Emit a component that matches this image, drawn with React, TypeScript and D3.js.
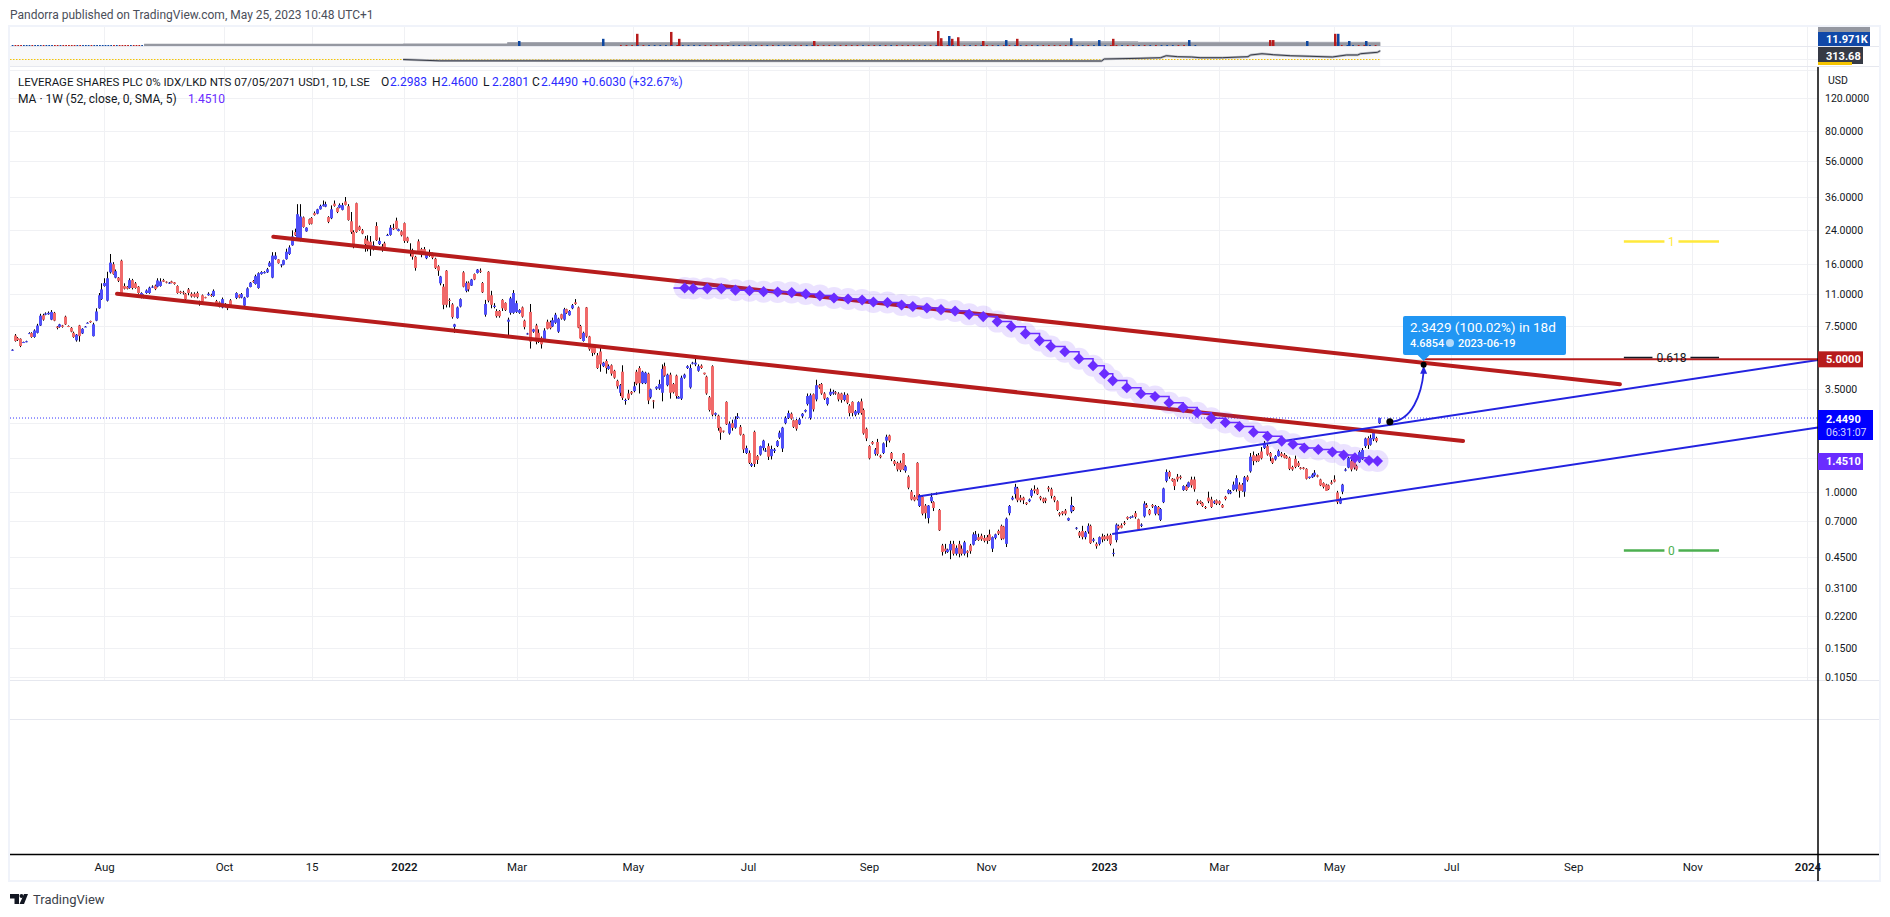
import { useEffect, useRef } from "react";
import * as d3 from "d3";

// daily candles (10 bars per line)
const opens = [
  5.58, 6.68, 6.48, 6.42, 6.13, 6.2, 6.84, 6.88, 6.56, 6.9,
  7.54, 8.55, 8.6, 8.65, 8.1, 8.8, 7.45, 7.42, 7.55, 8.4,
  7.5, 7.33, 6.9, 6.3, 7.55, 6.85, 7.42, 7.78, 7.97, 6.63,
  8.0, 9.3, 10.4, 12.2, 10.2, 14.4, 15.9, 13.5, 13.5, 16.6,
  12.2, 12.1, 11.9, 13.1, 12.6, 12.1, 10.55, 10.55, 11.2, 11.2,
  11.95, 12.25, 12.1, 12.2, 13.1, 12.85, 12.55, 12.9, 12.75, 12.2,
  11.4, 11.3, 11.1, 11.7, 11.1, 11.1, 11.2, 10.1, 10.9, 10.65,
  10.9, 10.95, 10.8, 10.15, 10, 9.4, 9.8, 9.55, 10.25, 9.55,
  10.55, 10.95, 10.6, 9.6, 10.65, 12.05, 12.95, 12.5, 11.9, 14.1,
  14.25, 14.4, 15.5, 13.5, 16.9, 16.85, 15.75, 15.8, 16.9, 18,
  20, 23.5, 21.7, 21.3, 28.1, 23.7, 27.5, 27.9, 29.6, 29.4,
  31, 32.2, 32, 28.2, 27.8, 33.2, 31.5, 31.6, 30.8, 34.1,
  32.2, 26.8, 23.5, 33.4, 25.1, 24, 21.7, 21.2, 20.9, 19.1,
  25.3, 20.3, 19.7, 20.5, 22.5, 22.7, 24.7, 27, 23.8, 23.7,
  26.2, 22, 18.9, 18.7, 17.4, 21, 19.1, 19.1, 17.1, 17.7,
  18.1, 17, 15.5, 12.6, 12.1, 14.7, 10.3, 9.75, 7.42, 8.25,
  9.5, 14.4, 11.5, 12.7, 12.25, 14.1, 14.3, 14.7, 12.65, 8.6,
  14.5, 10.9, 9.45, 9, 9,
  10.3, 9.93, 7.9, 8.8, 8.8, 8.9, 8.8, 9.4, 8, 6.8,
  8.9, 7, 7.55, 6.9, 6.5, 6.4, 7.9, 7.85, 7.45, 7.8,
  7, 8.65, 8.1, 9.2, 8.55, 9.3, 10, 9.4, 7.5, 6.25,
  9.4, 6.6, 5.95, 5.95, 5.25, 5.5, 4.6, 4.9, 4.45, 4.65,
  4.35, 3.85, 3.33, 4.3, 3.03, 3.3, 3.37, 3.4, 4.3, 4.5,
  3.74, 3.74, 4.2, 3.15, 3.03, 3.5, 3.5, 3.33, 4.6, 3.65,
  4.15, 3.7, 4.1, 3.1, 3.1, 4, 4.5, 3.55, 4.75, 4.7,
  4.35, 4.63, 4.25, 4.05, 3.15, 4.6, 2.55, 2.52, 2.18, 2.1,
  2.98, 2.03, 2.3, 2.18, 2.45, 2.2, 2, 1.6, 1.6, 1.37,
  2.07, 1.54, 1.57, 1.7, 1.63, 1.74, 1.54, 1.64, 1.74, 1.93,
  1.69, 2.3, 2.45, 2.58, 2.38, 2.39, 2.27, 2.5, 2.65, 2.9,
  2.45, 3.27, 3.07, 3.65, 3.7, 3.3, 2.9, 3.25, 3.3, 3.35,
  3.3, 3.3, 3.05, 3.25, 2.85, 2.98, 2.55, 2.6, 3, 2.7,
  2.15, 1.74, 1.83, 1.58, 1.83, 1.55, 1.6, 1.86, 1.98, 1.6,
  1.45, 1.42, 1.42, 1.59, 1.29, 1.2,
  1, 0.94, 1.42, 0.84, 0.94, 0.845, 0.725, 0.89, 0.88, 0.98,
  0.8, 0.52, 0.5, 0.48, 0.49, 0.53, 0.47, 0.53, 0.5, 0.47,
  0.485, 0.52, 0.525, 0.555, 0.575, 0.585, 0.57, 0.575, 0.595, 0.5,
  0.57, 0.62, 0.66, 0.655, 0.53, 0.77, 0.91, 0.97, 1.04, 0.93,
  0.93, 0.875, 0.89, 0.95, 1.03, 1.03, 0.94, 0.92, 0.92, 1.05,
  1.03, 0.94, 0.89, 0.77, 0.785, 0.795, 0.705, 0.785, 0.83, 0.64,
  0.61, 0.62, 0.575, 0.615, 0.66, 0.55, 0.53, 0.53, 0.58, 0.58,
  0.585, 0.59, 0.47, 0.555, 0.66, 0.665, 0.685, 0.735, 0.73, 0.735,
  0.77, 0.715, 0.66, 0.74, 0.85, 0.8, 0.85, 0.765, 0.83, 0.71,
  0.88, 1.14, 1.27, 1.17, 1.16, 1.2, 1.2, 1.02, 1.07, 1.06,
  1.16, 1.16, 0.89, 0.89, 0.87, 0.83, 0.93, 0.91, 0.87, 0.9,
  0.89, 0.85, 0.94, 0.98, 0.98, 1.02, 1.03, 1.09, 1.09, 1,
  1.2, 1.28, 1.56, 1.54, 1.56, 1.63, 1.7, 1.74, 1.6, 1.5,
  1.48, 1.54, 1.59, 1.57, 1.54, 1.51, 1.35, 1.49, 1.42, 1.34,
  1.34, 1.32, 1.18, 1.19, 1.22, 1.22, 1.16, 1.11, 1.09, 1.08,
  1.12, 1.16, 0.99, 0.865, 1, 1.29, 1.34, 1.45, 1.45, 1.37,
  1.43, 1.48, 1.74, 1.92, 1.77, 1.89, 1.92, 2.2983,
];
const closes = [
  5.62, 6.25, 6.32, 5.88, 6.17, 6.23, 6.88, 6.56, 7.1, 7.54,
  8.5, 8.1, 8.73, 8.8, 8.9, 8.0, 7.33, 7.65, 7.42, 7.65,
  7.42, 7.0, 6.56, 6.75, 6.63, 7.25, 7.45, 7.8, 7.85, 7.65,
  8.95, 10.9, 11.7, 12.65, 13.4, 16.2, 14.1, 14.6, 13.0, 11.2,
  11.8, 11.8, 13.1, 11.9, 11.9, 11.2, 11.2, 10.9, 11.55, 11.95,
  12.1, 11.75, 13.05, 12.9, 12.85, 12.7, 12.7, 12.65, 12.5, 11.2,
  11.2, 11.2, 10.4, 11.2, 10.75, 10.7, 10.65, 9.93, 10.1, 10.6,
  11.1, 10.8, 11.5, 9.75, 9.45, 10.4, 9.55, 9.3, 9.55, 9.6,
  11.2, 10.6, 11.05, 10.6, 11.85, 12.7, 12.8, 13.75, 14.25, 14.45,
  14.45, 14.95, 16.2, 17.65, 17.65, 16.1, 15.85, 16.7, 18.5, 19.5,
  22.3, 22.6, 29.2, 28.4, 25, 24.8, 26, 26, 28.9, 31,
  32.3, 32.8, 33, 26.6, 31, 32.3, 30, 32.7, 32.6, 32.7,
  27.2, 23.5, 19.9, 23.5, 24.1, 23.1, 20.3, 19.5, 19.3, 20,
  21.3, 21.1, 19.3, 19.5, 22.7, 24.8, 24.3, 24.5, 24.3, 22.6,
  21.1, 21, 18.3, 17.4, 15.2, 18.5, 18, 18.3, 18.2, 18.2,
  17.2, 15.2, 14.7, 13.7, 9.7, 9.7, 10.2, 8.35, 7.65, 9.4,
  10.4, 12.1, 12.65, 11.7, 13.2, 13.2, 14.9, 14.5, 11.3, 9.8,
  10.2, 9.7, 9.6, 8.45, 8.45,
  9.3, 9.1, 8.1, 10.5, 11.2, 9.9, 9.1, 8.4, 7.4, 6.85,
  6.2, 7.2, 6.2, 6.2, 6, 7.1, 7.25, 7.3, 8.05, 8.6,
  8.2, 8.2, 9.2, 8.8, 9, 9.65, 9.8, 7.35, 6.45, 6.9,
  6.6, 5.65, 5.4, 5.4, 4.5, 4.7, 4.8, 4.5, 4.6, 4.2,
  4, 3.6, 3.65, 3.13, 3.05, 3.1, 3.3, 3.6, 3.72, 3.74,
  4.3, 4.25, 3.03, 3.47, 3, 3.58, 3.7, 4.45, 4.1, 4.15,
  3.33, 3.35, 3.2, 3.17, 4, 4.15, 4.6, 4.5, 4.8, 4.8,
  4.6, 4.5, 4.17, 3.3, 2.7, 2.55, 2.6, 2.17, 2.05, 2.08,
  2.27, 2.29, 2.17, 2.41, 2.5, 2, 1.67, 1.7, 1.42, 1.4,
  1.4, 1.47, 1.74, 1.86, 1.65, 1.53, 1.68, 1.67, 1.85, 2.05,
  2.18, 2.45, 2.6, 2.43, 2.2, 2.15, 2.41, 2.58, 2.7, 3.2,
  3.23, 2.72, 3.65, 3.55, 3.3, 3.1, 3.13, 3.37, 3.37, 3.3,
  3.07, 3.05, 3.25, 2.95, 2.6, 2.6, 2.66, 2.97, 2.6, 2.03,
  1.91, 1.5, 1.79, 1.67, 1.58, 1.52, 1.8, 1.95, 1.86, 1.49,
  1.4, 1.31, 1.3, 1.31, 1.36, 1.05,
  0.91, 0.9, 0.91, 0.95, 0.765, 0.77, 0.845, 0.94, 0.82, 0.975,
  0.625, 0.48, 0.485, 0.495, 0.53, 0.47, 0.505, 0.47, 0.47, 0.54,
  0.475, 0.485, 0.595, 0.595, 0.555, 0.56, 0.55, 0.55, 0.555, 0.575,
  0.595, 0.6, 0.565, 0.565, 0.72, 0.84, 0.93, 1.06, 0.9, 0.9,
  0.9, 0.86, 0.91, 1.02, 1.01, 0.97, 0.92, 0.885, 0.895, 1.03,
  0.95, 0.9, 0.8, 0.755, 0.765, 0.765, 0.725, 0.85, 0.8, 0.645,
  0.585, 0.575, 0.61, 0.66, 0.535, 0.56, 0.515, 0.575, 0.56, 0.56,
  0.56, 0.53, 0.475, 0.67, 0.64, 0.645, 0.675, 0.72, 0.735, 0.74,
  0.735, 0.63, 0.67, 0.865, 0.825, 0.76, 0.835, 0.84, 0.76, 0.81,
  1.04, 1.27, 1.2, 1.14, 1.07, 1.16, 1.18, 1.07, 1.02, 1.12,
  1.08, 1.03, 0.865, 0.87, 0.84, 0.82, 0.89, 0.83, 0.89, 0.865,
  0.865, 0.825, 0.915, 1.02, 1, 1.09, 1.18, 1.01, 1.01, 1.19,
  1.15, 1.53, 1.45, 1.45, 1.45, 1.5, 1.81, 1.57, 1.53, 1.42,
  1.54, 1.64, 1.54, 1.51, 1.5, 1.32, 1.31, 1.35, 1.37, 1.32,
  1.32, 1.17, 1.2, 1.23, 1.26, 1.2, 1.08, 1.06, 1.01, 1.03,
  1.1, 1.13, 0.88, 0.92, 1.09, 1.31, 1.51, 1.31, 1.34, 1.31,
  1.62, 1.66, 1.91, 1.76, 1.92, 2.05, 1.85, 2.449,
];
const highs = [
  5.65, 6.8, 6.55, 6.45, 6.2, 6.27, 6.95, 6.95, 7.2, 7.7,
  8.7, 8.7, 8.85, 8.95, 9.1, 8.9, 7.5, 7.7, 7.6, 8.5,
  7.55, 7.4, 7, 6.8, 7.6, 7.3, 7.5, 7.85, 8, 7.8,
  9.3, 11.2, 12.6, 13.4, 14.5, 18, 16.3, 14.9, 13.6, 16.8,
  12.6, 12.2, 13.4, 13.3, 12.8, 12.2, 11.3, 11, 11.7, 12.1,
  12.3, 12.4, 13.4, 13.4, 13.3, 12.9, 12.8, 13, 12.8, 12.3,
  11.5, 11.5, 11.2, 11.9, 11.3, 11.3, 11.4, 10.2, 11, 10.7,
  11.3, 11.1, 11.7, 10.3, 10.1, 10.6, 9.9, 9.6, 10.4, 9.65,
  11.3, 11, 11.2, 10.7, 12, 12.8, 13.1, 14, 14.4, 14.6,
  14.6, 15.2, 16.5, 18.4, 18.4, 16.9, 15.9, 16.8, 19.2, 20,
  24, 24.5, 33, 33, 28.4, 24.9, 27.7, 28.2, 30.2, 31.2,
  32.8, 34.5, 34, 28.5, 32.5, 34.5, 31.7, 33.3, 33.5, 36,
  33, 30, 24, 33.6, 25.4, 24.4, 22.4, 22.6, 22.4, 21,
  26.5, 22, 20.3, 20.9, 23, 25.6, 26, 28, 24.5, 24,
  26.4, 22.2, 20.5, 19.2, 17.6, 21.5, 19.4, 19.6, 18.4, 19,
  18.3, 17.2, 15.7, 13.8, 12.5, 14.8, 10.5, 9.9, 7.7, 9.5,
  10.5, 14.6, 12.9, 12.9, 13.3, 14.2, 15, 15.1, 12.8, 10.3,
  14.6, 11.5, 9.9, 9.2, 9.1,
  10.4, 10, 8.3, 10.7, 11.6, 10.2, 9.2, 9.5, 8.1, 6.9,
  9.8, 7.25, 7.7, 7.2, 6.6, 7.3, 8.1, 8, 8.3, 8.8,
  8.3, 8.7, 9.35, 9.25, 9.1, 9.8, 10.4, 9.5, 7.6, 7,
  9.45, 6.65, 6, 6, 5.4, 5.8, 4.85, 5, 4.7, 4.7,
  4.4, 3.9, 3.7, 4.65, 3.1, 3.45, 3.4, 3.8, 4.4, 4.6,
  4.35, 4.3, 4.25, 3.5, 3.05, 3.6, 3.9, 4.7, 4.8, 4.2,
  4.25, 3.75, 4.15, 3.2, 4.1, 4.2, 4.65, 4.7, 4.85, 5.2,
  4.7, 4.7, 4.25, 4.1, 3.2, 4.65, 2.62, 2.55, 2.2, 2.1,
  3, 2.35, 2.4, 2.5, 2.6, 2.25, 2.02, 1.75, 1.65, 1.42,
  2.1, 1.56, 1.75, 1.88, 1.7, 1.8, 1.75, 1.7, 1.87, 2.1,
  2.2, 2.5, 2.68, 2.62, 2.4, 2.42, 2.45, 2.6, 2.72, 3.3,
  3.3, 3.3, 3.9, 3.7, 3.75, 3.35, 3.15, 3.5, 3.45, 3.4,
  3.35, 3.33, 3.35, 3.3, 2.9, 3, 2.7, 3, 3.1, 2.75,
  2.18, 1.76, 1.85, 1.7, 1.9, 1.57, 1.82, 2, 2, 1.62,
  1.47, 1.44, 1.46, 1.6, 1.38, 1.22,
  1.02, 0.96, 1.43, 0.97, 0.95, 0.86, 0.85, 0.98, 0.89, 0.99,
  0.81, 0.53, 0.53, 0.5, 0.55, 0.55, 0.52, 0.55, 0.52, 0.55,
  0.49, 0.53, 0.61, 0.62, 0.6, 0.6, 0.59, 0.59, 0.63, 0.58,
  0.6, 0.63, 0.67, 0.66, 0.73, 0.85, 0.95, 1.1, 1.06, 0.96,
  0.94, 0.88, 0.92, 1.04, 1.08, 1.05, 0.95, 0.93, 0.93, 1.07,
  1.05, 0.95, 0.9, 0.78, 0.79, 0.81, 0.73, 0.94, 0.84, 0.65,
  0.62, 0.66, 0.62, 0.68, 0.67, 0.57, 0.54, 0.58, 0.6, 0.59,
  0.6, 0.6, 0.5, 0.68, 0.67, 0.68, 0.7, 0.74, 0.74, 0.75,
  0.79, 0.72, 0.68, 0.89, 0.87, 0.81, 0.86, 0.85, 0.84, 0.82,
  1.05, 1.31, 1.29, 1.18, 1.17, 1.24, 1.22, 1.08, 1.09, 1.13,
  1.2, 1.2, 0.91, 0.9, 0.88, 0.84, 1, 0.94, 0.9, 0.91,
  0.9, 0.86, 0.95, 1.03, 1.02, 1.13, 1.22, 1.12, 1.11, 1.21,
  1.22, 1.6, 1.63, 1.58, 1.6, 1.72, 1.85, 1.78, 1.62, 1.51,
  1.56, 1.67, 1.62, 1.6, 1.56, 1.53, 1.37, 1.55, 1.45, 1.35,
  1.35, 1.33, 1.2, 1.25, 1.3, 1.23, 1.17, 1.12, 1.1, 1.09,
  1.15, 1.22, 1.01, 0.94, 1.1, 1.33, 1.53, 1.5, 1.47, 1.39,
  1.65, 1.7, 1.93, 1.96, 2, 2.1, 1.95, 2.46,
];
const lows = [
  5.55, 6.2, 6.25, 5.8, 6.1, 6.15, 6.8, 6.5, 6.5, 6.85,
  7.5, 8, 8.55, 8.6, 8.05, 7.95, 7.2, 7.35, 7.35, 7.6,
  7.4, 6.95, 6.5, 6.2, 6.2, 6.8, 7.4, 7.75, 7.8, 6.6,
  7.95, 9.25, 10.3, 12.1, 10.1, 14.2, 14, 13.4, 12.8, 11.1,
  11.7, 11.7, 11.8, 11.7, 11.8, 11.1, 10.5, 10.5, 11.1, 11.1,
  11.9, 11.6, 12, 12.1, 12.8, 12.6, 12.5, 12.6, 12.4, 11.1,
  11.1, 11, 10.1, 10.9, 10.6, 10.6, 10.5, 9.6, 10, 10.5,
  10.85, 10.7, 10.7, 9.7, 9.4, 9.3, 9.4, 9.1, 9.5, 9.5,
  10.4, 10.5, 10.5, 9.5, 10.6, 12, 12.7, 12.4, 11.8, 14,
  14.2, 14.3, 15.4, 13.4, 16.8, 16, 15.3, 15.7, 16.8, 17.8,
  19.9, 22.4, 21.5, 21, 24.8, 23.6, 25.7, 25.8, 28.7, 29.2,
  30.9, 32.1, 31.8, 26.2, 27.5, 32, 29.6, 31.4, 30.6, 32.5,
  27, 23, 19.3, 23.3, 23.9, 22.9, 18.5, 18.6, 17.6, 18.8,
  21.1, 20.1, 18.5, 18.8, 22.4, 22.5, 24.1, 24.3, 23.7, 22.3,
  20.6, 20.6, 17.5, 16.8, 14.7, 18.2, 17.3, 17.9, 16.9, 17.4,
  16.9, 15, 13.8, 12.3, 9.2, 9.4, 9.4, 8.2, 6.9, 8.2,
  9.4, 12, 11.3, 11.4, 12.2, 13.1, 14.2, 14.3, 11.2, 8.4,
  10, 9.3, 9.3, 8.3, 8.3,
  9, 9, 6.6, 8.6, 8.7, 8.8, 8.7, 8.3, 7.2, 6.75,
  5.7, 6.9, 6, 6.1, 5.7, 6.3, 7.2, 7.2, 7.4, 7.7,
  6.9, 8.1, 8, 8.7, 8.5, 9.2, 9.7, 7.3, 6.4, 6.2,
  6.5, 5.55, 5.2, 5.3, 4.45, 4.3, 4.55, 4.2, 4.4, 4.1,
  3.95, 3.5, 3.2, 3.05, 2.88, 3.05, 3.25, 3.35, 3.65, 3.3,
  3.7, 3.7, 2.9, 3.1, 2.75, 3.45, 3.45, 3, 4.05, 3.6,
  3.1, 3.3, 3.1, 3.1, 3.05, 3.95, 4.45, 3.5, 4.7, 4.6,
  4.3, 4.45, 4.15, 3.25, 2.65, 2.5, 2.5, 2.1, 1.88, 2.05,
  2.25, 2, 2.1, 2.15, 2.42, 1.98, 1.6, 1.58, 1.4, 1.35,
  1.35, 1.4, 1.55, 1.65, 1.62, 1.47, 1.48, 1.6, 1.72, 1.9,
  1.62, 2.27, 2.42, 2.4, 2.17, 2.1, 2.25, 2.45, 2.62, 2.85,
  2.4, 2.65, 3, 3.5, 3.25, 3.05, 2.85, 3.2, 3.25, 3.25,
  3, 2.95, 3, 2.9, 2.5, 2.5, 2.5, 2.55, 2.55, 2,
  1.85, 1.48, 1.77, 1.55, 1.55, 1.5, 1.58, 1.72, 1.82, 1.45,
  1.37, 1.28, 1.27, 1.3, 1.26, 1.03,
  0.9, 0.89, 0.9, 0.83, 0.75, 0.72, 0.68, 0.87, 0.79, 0.96,
  0.62, 0.46, 0.47, 0.475, 0.44, 0.46, 0.46, 0.45, 0.46, 0.46,
  0.45, 0.47, 0.52, 0.55, 0.55, 0.55, 0.54, 0.53, 0.55, 0.48,
  0.56, 0.59, 0.555, 0.56, 0.51, 0.75, 0.9, 0.92, 0.88, 0.88,
  0.86, 0.85, 0.88, 0.93, 0.98, 0.96, 0.9, 0.87, 0.87, 1,
  0.92, 0.88, 0.79, 0.74, 0.75, 0.75, 0.7, 0.77, 0.79, 0.63,
  0.57, 0.56, 0.56, 0.6, 0.53, 0.54, 0.5, 0.52, 0.54, 0.55,
  0.55, 0.52, 0.455, 0.54, 0.63, 0.64, 0.665, 0.71, 0.72, 0.73,
  0.72, 0.62, 0.65, 0.73, 0.82, 0.75, 0.82, 0.75, 0.75, 0.7,
  0.87, 1.12, 1.17, 1.13, 1.02, 1.13, 1.16, 1.01, 1.01, 1.05,
  1.05, 1, 0.85, 0.86, 0.83, 0.81, 0.87, 0.82, 0.86, 0.85,
  0.85, 0.82, 0.9, 0.97, 0.97, 1.01, 1, 0.93, 1, 0.94,
  1.13, 1.26, 1.38, 1.43, 1.44, 1.48, 1.68, 1.55, 1.45, 1.4,
  1.46, 1.53, 1.52, 1.5, 1.49, 1.3, 1.29, 1.33, 1.35, 1.31,
  1.31, 1.16, 1.17, 1.18, 1.2, 1.19, 1.07, 1.04, 1.01, 1.02,
  1.09, 1.12, 0.86, 0.86, 0.97, 1.28, 1.33, 1.28, 1.31, 1.29,
  1.42, 1.47, 1.7, 1.68, 1.75, 1.85, 1.82, 2.2801,
];
// the candle rows run a few bars long against the time axis
const CANDLE_STEP = 485.5 / 488;

// weekly moving average
const maBars = [
  239, 242, 247, 252, 257, 262, 267, 272, 277, 282, 287, 292, 297, 302, 306, 311, 316, 320, 325, 330,
  335, 340, 345, 350, 355, 360, 365, 369, 374, 379, 384, 388, 391, 396, 401, 406, 411, 416, 421, 426,
  431, 436, 441, 446, 451, 455, 459, 464, 469, 473, 477, 482, 485,
];
const maValues = [
  11.9, 11.82, 11.82, 11.82, 11.6, 11.53, 11.39, 11.34, 11.26, 11.07, 10.85, 10.54, 10.41, 10.29, 10.04, 9.97, 9.68, 9.5, 9.33, 9.15,
  9.0, 8.64, 8.41, 7.91, 7.44, 6.84, 6.28, 5.84, 5.49, 5.04, 4.63, 4.2, 3.86, 3.54, 3.29, 3.18, 2.95, 2.78, 2.61, 2.44,
  2.32, 2.21, 2.06, 1.96, 1.85, 1.78, 1.7, 1.67, 1.62, 1.56, 1.51, 1.46, 1.451,
];
const maLineStart = 235;

// drawings: [bar, price]
const lowerRedLine = [[37.4, 11.1], [515.4, 1.85]];
const upperRedLine = [[92.9, 22.2], [571.1, 3.69]];
const upperBlueLine = [[321.8, 0.944], [641.4, 4.96]];
const lowerBlueLine = [[390.8, 0.597], [641.4, 2.18]];
const arrowStart = [489.4, 2.34];
const arrowEnd = [501.4, 4.6854];
const targetStartBar = 501.4;
const targetPrice = 5;
const lastPrice = 2.449;
const maPrice = 1.451;

// fib levels
const fibLevels = ["1", "0.618", "0"];
const fibPrices = [21.1, 5.12, 0.494];
const fibColors = ["#ffe93b", "#131722", "#4caf50"];
const fibBars = [572.5, 606.3];

const priceTicks = [120, 80, 56, 36, 24, 16, 11, 7.5, 5, 3.5, 2.3, 1.5, 1, 0.7, 0.45, 0.31, 0.22, 0.15, 0.105];
const coveredTicks = [5, 2.3, 1.5]; // sit under the price badges
const timeTickBars = [32.8, 75.4, 106.5, 139.3, 179.3, 220.6, 261.5, 304.4, 346, 387.9, 428.7, 469.6, 511.2, 554.5, 596.8, 637.7];
const timeTickLabels = ["Aug", "Oct", "15", "2022", "Mar", "May", "Jul", "Sep", "Nov", "2023", "Mar", "May", "Jul", "Sep", "Nov", "2024"];

// volume pane
const volSpikeBars = [180, 210, 222, 234, 237, 285, 329, 330, 333, 334, 336, 345, 353, 357, 376, 386, 391, 418, 447, 448, 460, 470, 471, 475, 481];
const volSpikeValues = [16, 23, 39, 45, 23, 16, 48, 25, 32, 23, 28, 16, 19, 23, 25, 19, 23, 19, 19, 19, 16, 39, 39, 16, 16];
const volSpikeUp = [1, 1, 0, 0, 0, 0, 0, 0, 1, 0, 0, 0, 1, 0, 1, 1, 0, 1, 0, 0, 1, 0, 1, 1, 1];
const volMaBars = [47, 139, 176, 486];
const volMaValues = [7, 8, 11, 11];
const volMa2Bars = [176, 222, 255, 330, 400, 486];
const volMa2Values = [13, 12.5, 15, 16, 14, 12.5];
const volTinyRanges = [[0, 47], [216, 421], [471, 486]];

// second pane
const altBars = [139, 152, 387, 388, 401, 408, 410, 414, 419, 422, 430, 439, 440, 444, 448, 454, 461, 469, 474, 478, 479, 485, 486];
const altValues = [45, 5, 0, 61, 83, 101, 162, 132, 122, 101, 101, 132, 184, 223, 193, 162, 144, 122, 184, 184, 223, 266, 313.68];
const altDotted = 46;

const FONT = "Roboto, 'Noto Sans', sans-serif";
const INK = "#131722";
const GRID = "#f0f1f4";
const SEP = "#e6e8ef";
const UP = "#5050f8";
const DOWN = "#f06a6a";
const BLUE_LINE = "#2323e0";
const DARK_RED = "#b71c1c";
const PURPLE = "#6a2cff";

const LEFT = 10;
const RIGHT = 1879;
const AXIS_X = 1818;

export default function App() {
  const svgRef = useRef<SVGSVGElement>(null);

  useEffect(() => {
    if (!svgRef.current) return;
    const svg = d3.select(svgRef.current);
    svg.selectAll("*").remove();

    const x = d3.scaleLinear().domain([0, 100]).range([11.7, 293.3]);
    const y = d3.scaleLog().domain([0.105, 120]).range([677, 98]);
    const volY = d3.scaleLinear().domain([0, 48]).range([46, 31]);
    const altY = d3.scaleLinear().domain([0, 313.68]).range([61, 50.75]);

    const text = (tx: number, ty: number, s: string, size: number, fill: string, weight = 400) =>
      svg.append("text").attr("x", tx).attr("y", ty).attr("font-size", size)
        .attr("font-family", FONT).attr("font-weight", weight).attr("fill", fill).text(s);
    const hline = (yy: number, x1: number, x2: number, color: string, w = 1) =>
      svg.append("line").attr("x1", x1).attr("x2", x2).attr("y1", yy).attr("y2", yy)
        .attr("stroke", color).attr("stroke-width", w);

    // frame
    svg.append("rect").attr("x", 9).attr("y", 26).attr("width", 1871).attr("height", 855)
      .attr("fill", "#fff").attr("stroke", "#f0f3fa").attr("stroke-width", 2);

    text(10, 19, "Pandorra published on TradingView.com, May 25, 2023 10:48 UTC+1", 12, "#4a4e59");

    // grid
    timeTickBars.forEach((b) => {
      const gx = Math.round(x(b)) + 0.5;
      svg.append("line").attr("x1", gx).attr("x2", gx).attr("y1", 27).attr("y2", 680)
        .attr("stroke", GRID).attr("stroke-width", 1);
    });
    priceTicks.forEach((p) => hline(Math.round(y(p)) + 0.5, LEFT, AXIS_X, GRID));

    // pane two background
    svg.append("rect").attr("x", LEFT).attr("y", 47).attr("width", x(486) - LEFT).attr("height", 19).attr("fill", "#f8f8f9");
    hline(59.5, LEFT, AXIS_X, GRID);
    hline(70.5, LEFT, AXIS_X, GRID);

    // pane separators
    hline(46.5, LEFT, RIGHT, SEP);
    hline(66.5, LEFT, RIGHT, SEP);
    hline(680.5, LEFT, RIGHT, SEP);
    hline(719.5, LEFT, RIGHT, SEP);

    // volume pane
    const volArea = (bars: number[], vals: number[]) =>
      d3.area<number>().x((_, i) => x(bars[i])).y0(46).y1((d) => volY(d)).curve(d3.curveStepAfter)(vals);
    svg.append("path").attr("d", volArea(volMa2Bars, volMa2Values)).attr("fill", "#b8bac2");
    svg.append("path").attr("d", volArea(volMaBars, volMaValues)).attr("fill", "#9598a1");
    volSpikeBars.forEach((b, i) => {
      svg.append("rect").attr("x", Math.round(x(b)) - 1).attr("width", 2.5)
        .attr("y", volY(volSpikeValues[i])).attr("height", 46 - volY(volSpikeValues[i]))
        .attr("fill", volSpikeUp[i] ? "#0d47a1" : "#b71c1c");
    });
    volTinyRanges.forEach(([a, b]) => {
      d3.range(a, b).forEach((i) => {
        if (i % 2 && a > 0) return;
        svg.append("rect").attr("x", x(i)).attr("y", 45).attr("width", 1.8).attr("height", 1)
          .attr("fill", closes[i] >= opens[i] ? "#0d47a1" : "#b71c1c");
      });
    });

    // second pane lines
    svg.append("line").attr("x1", LEFT).attr("x2", x(486)).attr("y1", altY(altDotted)).attr("y2", altY(altDotted))
      .attr("stroke", "#f5c400").attr("stroke-width", 1).attr("stroke-dasharray", "1.5 1.5");
    const altLine = d3.line<number>().x((_, i) => x(altBars[i])).y((d) => altY(d));
    svg.append("path").attr("d", altLine(altValues)).attr("fill", "none").attr("stroke", "#b5b7bf").attr("stroke-width", 2.5);
    svg.append("path").attr("d", altLine(altValues)).attr("fill", "none").attr("stroke", "#363a45").attr("stroke-width", 1);

    // last price line
    svg.append("line").attr("x1", LEFT).attr("x2", AXIS_X).attr("y1", y(lastPrice)).attr("y2", y(lastPrice))
      .attr("stroke", "#3333ff").attr("stroke-width", 1).attr("stroke-dasharray", "1 2");

    // candles
    const candles = svg.append("g");
    opens.forEach((o, i) => {
      const c = closes[i];
      const cx = Math.round(x(i * CANDLE_STEP));
      const top = y(Math.max(o, c));
      const bot = y(Math.min(o, c));
      candles.append("line").attr("x1", cx + 0.5).attr("x2", cx + 0.5)
        .attr("y1", y(highs[i] ?? Math.max(o, c))).attr("y2", y(lows[i] ?? Math.min(o, c)))
        .attr("stroke", "#000").attr("stroke-width", 1);
      candles.append("rect").attr("x", cx - 1).attr("width", 3).attr("y", top).attr("height", Math.max(1, bot - top))
        .attr("fill", c >= o ? UP : DOWN);
    });

    // trend lines
    const straight = d3.line<number[]>().x((d) => x(d[0])).y((d) => y(d[1]));
    [lowerRedLine, upperRedLine].forEach((pts) => {
      svg.append("path").attr("d", straight(pts)).attr("fill", "none")
        .attr("stroke", DARK_RED).attr("stroke-width", 4).attr("stroke-linecap", "round");
    });
    [upperBlueLine, lowerBlueLine].forEach((pts) => {
      svg.append("path").attr("d", straight(pts)).attr("fill", "none")
        .attr("stroke", BLUE_LINE).attr("stroke-width", 2);
    });
    hline(y(targetPrice), x(targetStartBar), AXIS_X, DARK_RED, 2);

    // moving average: halo, step line, markers
    const halo = svg.append("g").attr("opacity", 0.13).attr("fill", PURPLE);
    maBars.forEach((b, i) => {
      halo.append("circle").attr("cx", x(b)).attr("cy", y(maValues[i])).attr("r", 11);
    });
    const maLine = d3.line<number>().x((_, i) => x(maBars[i])).y((d) => y(d)).curve(d3.curveStepAfter);
    svg.append("path").attr("d", maLine(maValues)).attr("fill", "none").attr("stroke", PURPLE).attr("stroke-width", 1.5);
    hline(y(maValues[0]), x(maLineStart), x(maBars[0]), PURPLE, 1.5);
    const diamond = d3.symbol().type(d3.symbolSquare).size(62)();
    maBars.forEach((b, i) => {
      svg.append("path").attr("d", diamond).attr("fill", PURPLE)
        .attr("transform", `translate(${x(b)},${y(maValues[i])}) rotate(45)`);
    });

    // forecast arrow
    const ax0 = x(arrowStart[0]);
    const ay0 = y(arrowStart[1]);
    const ax1 = x(arrowEnd[0]);
    const ay1 = y(arrowEnd[1]);
    const curve = d3.path();
    curve.moveTo(ax0, ay0);
    curve.bezierCurveTo(ax0 + 22, ay0, ax1 - 2, ay0 - 28, ax1, ay1 + 7);
    svg.append("path").attr("d", curve.toString()).attr("fill", "none").attr("stroke", BLUE_LINE).attr("stroke-width", 1.8);
    svg.append("path").attr("d", d3.line()([[ax1, ay1 + 1], [ax1 - 3.5, ay1 + 9], [ax1 + 3.5, ay1 + 9]]) + "Z").attr("fill", BLUE_LINE);
    svg.append("circle").attr("cx", ax0).attr("cy", ay0).attr("r", 3.5).attr("fill", "#000");
    svg.append("circle").attr("cx", ax1).attr("cy", ay1).attr("r", 3).attr("fill", "#000");

    // callout
    svg.append("rect").attr("x", 1403).attr("y", 316).attr("width", 163).attr("height", 39).attr("rx", 2).attr("fill", "#2196f3");
    svg.append("path").attr("d", d3.line()([[ax1 - 6, 355], [ax1, 361], [ax1 + 6, 355]]) + "Z").attr("fill", "#2196f3");
    text(1410, 332, "2.3429 (100.02%) in 18d", 13.5, "#fff");
    text(1410, 347, "4.6854", 11, "#fff", 500);
    svg.append("circle").attr("cx", 1450).attr("cy", 343).attr("r", 4).attr("fill", "#fff").attr("opacity", 0.65);
    text(1458, 347, "2023-06-19", 11, "#fff", 500);

    // fib levels
    fibLevels.forEach((label, i) => {
      const fy = Math.round(y(fibPrices[i])) + 0.5;
      const x1 = x(fibBars[0]);
      const x2 = x(fibBars[1]);
      const mid = (x1 + x2) / 2;
      const gap = label.length > 1 ? 19 : 7;
      const w = i === 1 ? 1.5 : 2.5;
      hline(fy, x1, mid - gap, fibColors[i], w);
      hline(fy, mid + gap, x2, fibColors[i], w);
      text(mid, fy + 4, label, 12, fibColors[i]).attr("text-anchor", "middle");
    });

    // axes
    hline(854.5, LEFT, RIGHT, "#000", 1.5);
    svg.append("line").attr("x1", AXIS_X).attr("x2", AXIS_X).attr("y1", 67).attr("y2", 881).attr("stroke", "#000").attr("stroke-width", 1.5);

    const yAxis = svg.append("g").attr("transform", `translate(${AXIS_X},0)`)
      .call(d3.axisRight(y).tickValues(priceTicks.filter((p) => !coveredTicks.includes(p)))
        .tickFormat(d3.format(".4f") as any).tickSize(0).tickPadding(7));
    yAxis.select(".domain").remove();
    yAxis.selectAll("text").attr("font-size", 10.5).attr("font-family", FONT).attr("fill", INK);

    const xAxis = svg.append("g").attr("transform", "translate(0,854)")
      .call(d3.axisBottom(x).tickValues(timeTickBars).tickFormat((_, i) => timeTickLabels[i]).tickSize(0).tickPadding(9));
    xAxis.select(".domain").remove();
    xAxis.selectAll("text").attr("font-size", 11.5).attr("font-family", FONT).attr("fill", INK)
      .attr("font-weight", (_, i) => (timeTickLabels[i].length === 4 ? 600 : 400));

    text(1828, 84, "USD", 10.5, INK);

    // price badges
    const badge = (by: number, w: number, h: number, fill: string, s: string, tx: number, ty: number) => {
      svg.append("rect").attr("x", AXIS_X).attr("y", by).attr("width", w).attr("height", h).attr("fill", fill);
      text(tx, ty, s, 11, "#fff", 700);
    };
    svg.append("rect").attr("x", AXIS_X).attr("y", 27).attr("width", 52).attr("height", 5).attr("fill", "#9598a1");
    badge(32, 52, 14, "#1048a8", "11.971K", 1826, 43);
    badge(47, 45, 17, "#363a45", "313.68", 1826, 60);
    svg.append("rect").attr("x", AXIS_X).attr("y", 62).attr("width", 34).attr("height", 3).attr("fill", "#f5c400");
    badge(y(targetPrice) - 8, 45, 16, DARK_RED, "5.0000", 1826, y(targetPrice) + 4);
    badge(410, 55, 30, "#0000ff", "2.4490", 1826, 423);
    text(1826, 436, "06:31:07", 10.5, "#d5d5ff");
    badge(453, 45, 17, PURPLE, "1.4510", 1826, y(maPrice) + 4);

    // legend
    text(18, 86, "LEVERAGE SHARES PLC 0% IDX/LKD NTS 07/05/2071 USD1, 1D, LSE", 11.5, INK);
    const ohlc = [["O", "2.2983", 381], ["H", "2.4600", 432], ["L", "2.2801", 483], ["C", "2.4490", 532]] as const;
    ohlc.forEach(([k, v, lx]) => {
      text(lx, 86, k, 12, INK);
      text(lx + 9, 86, v, 12, "#2b2bff");
    });
    text(582, 86, "+0.6030 (+32.67%)", 12, "#2b2bff");
    text(18, 103, "MA · 1W (52, close, 0, SMA, 5)", 12, INK);
    text(188, 103, "1.4510", 12, PURPLE);

    // logo
    svg.append("path").attr("fill", "#131722")
      .attr("d", "M10 894h9v10h-4.5v-5.5H10zM24 894h4l-4 10h-4.5z");
    svg.append("circle").attr("cx", 21.5).attr("cy", 896).attr("r", 2).attr("fill", "#131722");
    text(33, 904, "TradingView", 13, "#3b3f4a");
  }, []);

  return (
    <svg
      ref={svgRef}
      width={1890}
      height={917}
      style={{ position: "absolute", left: 0, top: 0, display: "block", background: "#fff" }}
      role="img"
      aria-label="Leverage Shares daily candlestick chart with trend lines and weekly moving average"
    />
  );
}
